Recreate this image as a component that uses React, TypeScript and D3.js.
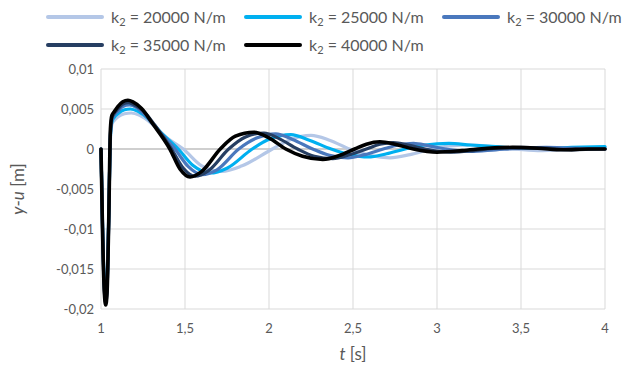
import React, { useRef, useEffect } from 'react';
import * as d3 from 'd3';

type Pt = [number, number];

// time [s], y-u [m]
const k20000: Pt[] = [
    [1.0, 0], [1.01, -0.01], [1.02, -0.0165], [1.028, -0.018], [1.036, -0.0165], [1.046, -0.008],
    [1.056, 0.001], [1.065, 0.0031], [1.08, 0.0036], [1.1, 0.004], [1.14, 0.0044], [1.18, 0.0045],
    [1.23, 0.0042], [1.3, 0.0032], [1.38, 0.0016], [1.49, 0], [1.6, -0.0021], [1.72, -0.0028],
    [1.84, -0.0021], [2.02, 0], [2.13, 0.0012], [2.25, 0.0017], [2.36, 0.0011], [2.48, 0],
    [2.6, -0.0008], [2.72, -0.0011], [2.84, -0.0007], [2.97, 0], [3.08, 0.0004], [3.2, 0.0005],
    [3.32, 0.0003], [3.45, 0], [3.6, -0.0002], [3.75, -0.0001], [3.9, 0.0001], [4.0, 0.0002],
];

const k25000: Pt[] = [
    [1.0, 0], [1.01, -0.0105], [1.02, -0.017], [1.028, -0.0185], [1.036, -0.017], [1.046, -0.0085],
    [1.056, 0.0015], [1.065, 0.0034], [1.08, 0.004], [1.1, 0.0044], [1.14, 0.0049], [1.175, 0.005],
    [1.22, 0.0047], [1.28, 0.0038], [1.35, 0.0022], [1.46, 0], [1.55, -0.0021], [1.65, -0.003],
    [1.75, -0.0024], [1.9, 0], [2.01, 0.0013], [2.13, 0.0018], [2.24, 0.0011], [2.37, 0],
    [2.48, -0.0007], [2.59, -0.001], [2.7, -0.0006], [2.81, 0], [2.93, 0.0005], [3.07, 0.0007],
    [3.2, 0.0005], [3.35, 0.0003], [3.5, 0.0001], [3.65, 0.0001], [3.8, 0.0002], [4.0, 0.0003],
];

const k30000: Pt[] = [
    [1.0, 0], [1.01, -0.0105], [1.02, -0.0175], [1.028, -0.019], [1.036, -0.0175], [1.046, -0.009],
    [1.056, 0.0018], [1.065, 0.0036], [1.08, 0.0043], [1.1, 0.0047], [1.13, 0.0053], [1.17, 0.0055],
    [1.21, 0.0052], [1.26, 0.0043], [1.33, 0.0026], [1.44, 0], [1.52, -0.0022], [1.6, -0.0032],
    [1.69, -0.0026], [1.82, 0], [1.93, 0.0014], [2.04, 0.0019], [2.14, 0.0012], [2.26, 0],
    [2.36, -0.0008], [2.47, -0.0011], [2.57, -0.0007], [2.68, 0], [2.77, 0.0005], [2.86, 0.0007],
    [2.95, 0.0004], [3.05, 0], [3.2, -0.0003], [3.35, -0.0001], [3.5, 0.0001], [3.65, 0.0002],
    [3.8, 0.0001], [4.0, 0],
];

const k35000: Pt[] = [
    [1.0, 0], [1.01, -0.011], [1.02, -0.0178], [1.028, -0.0192], [1.036, -0.0178], [1.046, -0.009],
    [1.056, 0.002], [1.065, 0.0039], [1.08, 0.0045], [1.1, 0.005], [1.13, 0.0056], [1.165, 0.0058],
    [1.2, 0.0055], [1.25, 0.0048], [1.32, 0.003], [1.42, 0], [1.49, -0.0024], [1.56, -0.0034],
    [1.64, -0.0027], [1.76, 0], [1.86, 0.0015], [1.97, 0.002], [2.06, 0.0013], [2.17, 0],
    [2.27, -0.0009], [2.38, -0.0012], [2.48, -0.0007], [2.58, 0], [2.66, 0.0006], [2.74, 0.0008],
    [2.83, 0.0005], [2.93, 0], [3.08, -0.0004], [3.22, -0.0002], [3.35, 0.0001], [3.5, 0.0002],
    [3.65, 0.0001], [3.8, -0.0001], [4.0, 0],
];

const k40000: Pt[] = [
    [1.0, 0], [1.01, -0.011], [1.02, -0.018], [1.028, -0.0195], [1.036, -0.018], [1.046, -0.009],
    [1.056, 0.0025], [1.065, 0.0042], [1.08, 0.0047], [1.1, 0.0053], [1.13, 0.0059], [1.16, 0.0061],
    [1.19, 0.0059], [1.24, 0.0051], [1.31, 0.0031], [1.41, 0], [1.47, -0.0025], [1.53, -0.0035],
    [1.6, -0.0028], [1.71, 0], [1.8, 0.0016], [1.91, 0.0021], [2.0, 0.0014], [2.1, 0],
    [2.2, -0.0009], [2.32, -0.0013], [2.42, -0.0008], [2.51, 0], [2.58, 0.0006], [2.66, 0.0009],
    [2.75, 0.0006], [2.86, 0], [3.0, -0.0004], [3.15, -0.0002], [3.3, 0.0001], [3.45, 0.0002],
    [3.6, 0.0001], [3.75, -0.0001], [3.9, 0], [4.0, 0],
];

const seriesLabels = ['20000', '25000', '30000', '35000', '40000'];
const seriesData = [k20000, k25000, k30000, k35000, k40000];
const seriesColors = ['#b4c7e7', '#00b0f0', '#4a78bd', '#263e62', '#000000'];

const xTicks = [1, 1.5, 2, 2.5, 3, 3.5, 4];
const yTicks = [0.01, 0.005, 0, -0.005, -0.01, -0.015, -0.02];

const W = 624;
const H = 365;
const FONT = 'Lato, "DejaVu Sans", sans-serif';

const fmt = (v: number) => String(v).replace('.', ',');

const App: React.FC = () => {
    const ref = useRef<SVGSVGElement | null>(null);

    useEffect(() => {
        const svg = d3.select(ref.current);
        svg.selectAll('*').remove();

        const left = 101, right = 605, top = 69, bottom = 309;
        const x = d3.scaleLinear().domain([1, 4]).range([left, right]);
        const y = d3.scaleLinear().domain([-0.02, 0.01]).range([bottom, top]);

        // grid
        const grid = svg.append('g');
        grid.selectAll('line.h')
            .data(yTicks.filter(d => d !== 0))
            .enter()
            .append('line')
            .attr('x1', left).attr('x2', right)
            .attr('y1', d => y(d)).attr('y2', d => y(d))
            .attr('stroke', '#d9d9d9').attr('stroke-width', 1);
        grid.selectAll('line.v')
            .data(xTicks)
            .enter()
            .append('line')
            .attr('x1', d => x(d)).attr('x2', d => x(d))
            .attr('y1', top).attr('y2', bottom)
            .attr('stroke', '#d9d9d9').attr('stroke-width', 1);
        // zero axis line
        grid.append('line')
            .attr('x1', left).attr('x2', right)
            .attr('y1', y(0)).attr('y2', y(0))
            .attr('stroke', '#bfbfbf').attr('stroke-width', 1.3);

        // tick labels
        svg.append('g')
            .selectAll('text')
            .data(yTicks)
            .enter()
            .append('text')
            .attr('x', left - 7)
            .attr('y', d => y(d))
            .attr('dy', '0.35em')
            .attr('text-anchor', 'end')
            .style('font-family', FONT)
            .style('font-size', '13px')
            .style('fill', '#595959')
            .text(d => fmt(d));

        svg.append('g')
            .selectAll('text')
            .data(xTicks)
            .enter()
            .append('text')
            .attr('x', d => x(d))
            .attr('y', bottom + 24)
            .attr('text-anchor', 'middle')
            .style('font-family', FONT)
            .style('font-size', '13px')
            .style('fill', '#595959')
            .text(d => fmt(d));

        // axis titles
        const xt = svg.append('text')
            .attr('x', (left + right) / 2)
            .attr('y', 360)
            .attr('text-anchor', 'middle')
            .style('font-family', FONT)
            .style('font-size', '17px')
            .style('fill', '#595959');
        xt.append('tspan').style('font-style', 'italic').text('t');
        xt.append('tspan').text(' [s]');

        const yt = svg.append('text')
            .attr('transform', `translate(24,${(top + bottom) / 2}) rotate(-90)`)
            .attr('text-anchor', 'middle')
            .style('font-family', FONT)
            .style('font-size', '17px')
            .style('fill', '#595959');
        yt.append('tspan').style('font-style', 'italic').text('y');
        yt.append('tspan').text('-');
        yt.append('tspan').style('font-style', 'italic').text('u');
        yt.append('tspan').text(' [m]');

        // curves
        const line = d3.line<Pt>()
            .x(d => x(d[0]))
            .y(d => y(d[1]))
            .curve(d3.curveMonotoneX);

        svg.append('g')
            .selectAll('path')
            .data(seriesData)
            .enter()
            .append('path')
            .attr('d', d => line(d))
            .attr('fill', 'none')
            .attr('stroke', (_, i) => seriesColors[i])
            .attr('stroke-width', (_, i) => (i === 4 ? 3.6 : 3.2))
            .attr('stroke-linejoin', 'round')
            .attr('stroke-linecap', 'round');

        // legend
        const legend = svg.append('g')
            .selectAll('g')
            .data(seriesLabels)
            .enter()
            .append('g')
            .attr('transform', (_, i) => `translate(${48 + (i % 3) * 198},${17 + Math.floor(i / 3) * 28})`);

        legend.append('line')
            .attr('x1', 0).attr('x2', 54)
            .attr('y1', 0).attr('y2', 0)
            .attr('stroke', (_, i) => seriesColors[i])
            .attr('stroke-width', 4)
            .attr('stroke-linecap', 'round');

        const lt = legend.append('text')
            .attr('x', 63)
            .attr('dy', '0.35em')
            .style('font-family', FONT)
            .style('font-size', '16px')
            .style('fill', '#595959');
        lt.append('tspan').text('k');
        lt.append('tspan').attr('dy', 3).style('font-size', '11px').text('2');
        lt.append('tspan').attr('dy', -3).text(d => ` = ${d} N/m`);
    }, []);

    return (
        <svg
            ref={ref}
            width={W}
            height={H}
            style={{ position: 'absolute', left: 0, top: 0, background: '#fff' }}
        ></svg>
    );
};

export default App;
